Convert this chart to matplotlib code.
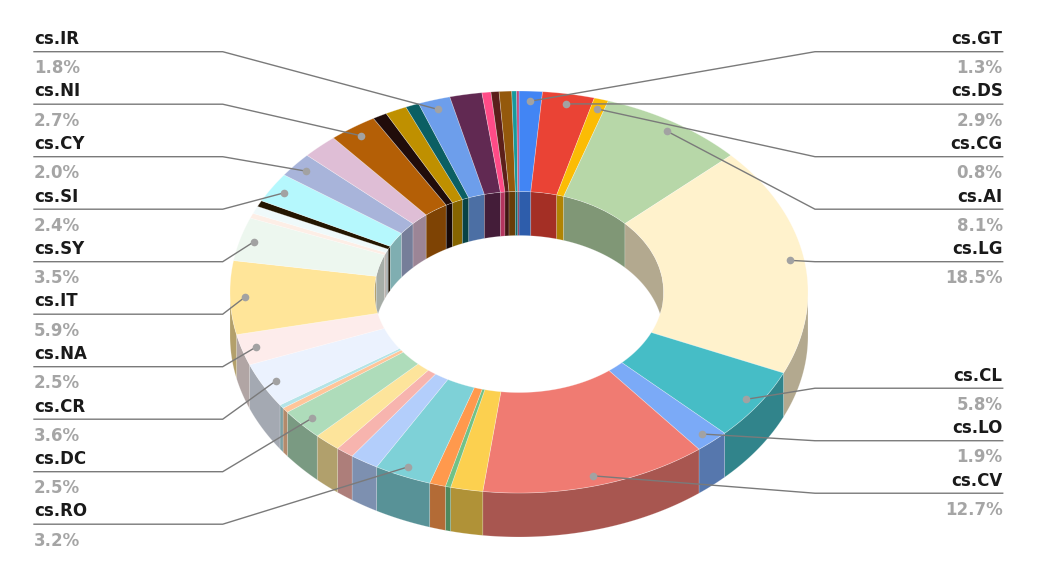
import numpy as np
import matplotlib
matplotlib.use("Agg")
import matplotlib.pyplot as plt
from matplotlib.patches import Polygon, Ellipse
from matplotlib.colors import to_rgb

# slices clockwise from 12 o'clock ('' = slice without a label)
names = ['cs.GT', 'cs.DS', 'cs.CG', 'cs.AI', 'cs.LG', 'cs.CL', 'cs.LO', 'cs.CV',
         '', '', '', 'cs.RO', '', '', '', 'cs.DC', '', '', 'cs.CR', 'cs.NA',
         'cs.IT', 'cs.SY', '', '', '', 'cs.SI', 'cs.CY', '', 'cs.NI', '', '', '',
         'cs.IR', '', '', '', '', '', '']
values = [1.3, 2.9, 0.8, 8.1, 18.5, 5.8, 1.9, 12.7,
          1.8, 0.3, 0.9, 3.2, 1.6, 1.0, 1.5, 2.5, 0.4, 0.3, 3.6, 2.5,
          5.9, 3.5, 0.4, 0.6, 0.5, 2.4, 2.0, 2.0, 2.7, 0.8, 1.2, 0.75,
          1.8, 1.8, 0.5, 0.45, 0.7, 0.27, 0.13]
colors = ['#4285f4', '#ea4335', '#fbbc04', '#b7d7a8', '#fff2cc', '#46bdc6', '#7baaf7', '#f07b72',
          '#fcd04f', '#71c287', '#ff994d', '#7ed1d7', '#b3cefb', '#f7b4ae', '#fde49b', '#aedcba',
          '#ffc599', '#b4e4e7', '#ebf2fe', '#fdeceb', '#ffe599', '#edf7ef', '#fdeee6', '#eff9fa',
          '#231500', '#b5f8fd', '#a8b4da', '#dfbed6', '#b45f06', '#200c0a', '#bf9000', '#0b5f63',
          '#6d9eeb', '#612952', '#ff4b87', '#5b1f1a', '#94590c', '#17999c', '#c2477d']

# label slots (rows) on each side
left_labels = ['cs.IR', 'cs.NI', 'cs.CY', 'cs.SI', 'cs.SY', 'cs.IT', 'cs.NA', 'cs.CR', 'cs.DC', 'cs.RO']
left_slots = [0, 1, 2, 3, 4, 5, 6, 7, 8, 9]
right_labels = ['cs.GT', 'cs.DS', 'cs.CG', 'cs.AI', 'cs.LG', 'cs.CL', 'cs.LO', 'cs.CV']
right_slots = [0, 1, 2, 3, 4, 6.41, 7.41, 8.41]

# geometry in pixels
CX, CY, RX, RY = 519, 292, 289, 201
HOLE = 0.5
DEPTH = 44


def pt(t, k):
    return CX + RX * k * np.sin(t), CY - RY * k * np.cos(t)


def dark(c, f=0.7):
    r, g, b = to_rgb(c)
    return (r * f, g * f, b * f)


fig = plt.figure(figsize=(10.39, 5.74), dpi=100)
ax = fig.add_axes([0, 0, 1, 1])
ax.set_xlim(0, 1039)
ax.set_ylim(574, 0)
ax.axis('off')

vals = np.array(values)
frac = vals / vals.sum()
edges = np.concatenate([[0], np.cumsum(frac)]) * 2 * np.pi

# outer side walls (front half)
for i in range(len(vals)):
    lo = max(edges[i], np.pi / 2)
    hi = min(edges[i + 1], 3 * np.pi / 2)
    if hi <= lo:
        continue
    t = np.linspace(lo, hi, max(3, int(np.degrees(hi - lo) * 2)))
    x, y = pt(t, 1)
    xy = np.column_stack([np.concatenate([x, x[::-1]]), np.concatenate([y, y[::-1] + DEPTH])])
    ax.add_patch(Polygon(xy, closed=True, fc=dark(colors[i]), ec=(1, 1, 1, 0.25), lw=0.5))

# top face
for i in range(len(vals)):
    a, b = edges[i], edges[i + 1]
    t = np.linspace(a, b, max(3, int(np.degrees(b - a) * 2)))
    xo, yo = pt(t, 1)
    xi, yi = pt(t[::-1], HOLE)
    xy = np.column_stack([np.concatenate([xo, xi]), np.concatenate([yo, yi])])
    ax.add_patch(Polygon(xy, closed=True, fc=colors[i], ec=(1, 1, 1, 0.35), lw=0.5))

# inner walls (back half), clipped to the hole
hole = Ellipse((CX, CY), 2 * RX * HOLE, 2 * RY * HOLE, transform=ax.transData)
for i in range(len(vals)):
    for lo0, hi0 in [(0, np.pi / 2), (3 * np.pi / 2, 2 * np.pi)]:
        lo = max(edges[i], lo0)
        hi = min(edges[i + 1], hi0)
        if hi <= lo:
            continue
        t = np.linspace(lo, hi, max(3, int(np.degrees(hi - lo) * 2)))
        x, y = pt(t, HOLE)
        xy = np.column_stack([np.concatenate([x, x[::-1]]), np.concatenate([y, y[::-1] + DEPTH])])
        p = Polygon(xy, closed=True, fc=dark(colors[i]), ec=(1, 1, 1, 0.25), lw=0.5)
        ax.add_patch(p)
        p.set_clip_path(hole)

# labels with leader lines
mids = (edges[:-1] + edges[1:]) / 2
font = dict(family='DejaVu Sans', fontsize=12, fontweight='bold')


def draw_label(name, slot, side):
    i = names.index(name)
    dx, dy = pt(mids[i], 0.95)
    base = 44 + 52.5 * slot
    uy = base + 7.7
    if side == 'left':
        tx, ex, ha = 34, 222.7, 'left'
    else:
        tx, ex, ha = 1002.7, 815, 'right'
    ax.plot([tx, ex, dx], [uy, uy, dy], color='#7a7a7a', lw=1.0, solid_joinstyle='miter')
    ax.plot(dx, dy, 'o', ms=5.5, color='#a2a2a2', mec='none')
    ax.text(tx, base, name, ha=ha, va='baseline', color='#1a1a1a', **font)
    ax.text(tx, base + 29.3, f"{100 * frac[i]:.1f}%", ha=ha, va='baseline',
            color='#a5a5a5', **font)


for n, s in zip(left_labels, left_slots):
    draw_label(n, s, 'left')
for n, s in zip(right_labels, right_slots):
    draw_label(n, s, 'right')

fig.savefig('out.png', dpi=100, facecolor='white')
